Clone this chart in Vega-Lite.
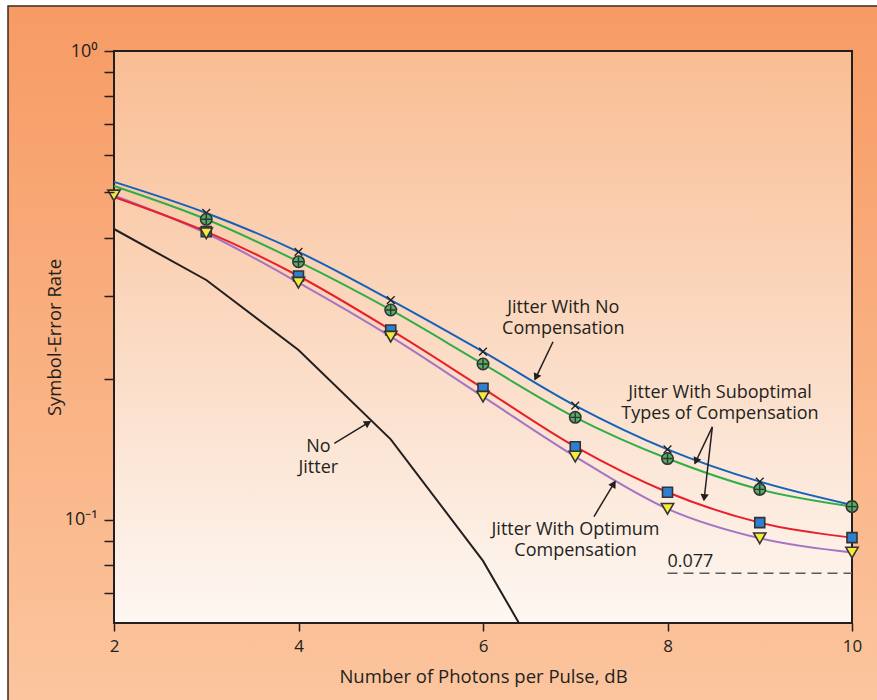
{
  "$schema": "https://vega.github.io/schema/vega-lite/v6.json",
  "width": 738,
  "height": 572,
  "autosize": {"type": "none"},
  "padding": {"left": 114, "top": 51, "right": 25, "bottom": 77},
  "background": "white",
  "config": {
    "view": {"stroke": null},
    "font": "Open Sans"
  },
  "datasets": {
    "curves": [
      {"s": "none", "x": 2, "y": 0.4173}, {"s": "none", "x": 3, "y": 0.3249}, {"s": "none", "x": 4, "y": 0.2304},
      {"s": "none", "x": 5, "y": 0.1486}, {"s": "none", "x": 6, "y": 0.0818}, {"s": "none", "x": 6.4, "y": 0.0598},
      {"s": "blue", "x": 2, "y": 0.526}, {"s": "blue", "x": 3, "y": 0.4515}, {"s": "blue", "x": 4, "y": 0.373},
      {"s": "blue", "x": 5, "y": 0.2944}, {"s": "blue", "x": 6, "y": 0.2285}, {"s": "blue", "x": 7, "y": 0.1753},
      {"s": "blue", "x": 8, "y": 0.1414}, {"s": "blue", "x": 9, "y": 0.1207}, {"s": "blue", "x": 10, "y": 0.1076},
      {"s": "green", "x": 2, "y": 0.5155}, {"s": "green", "x": 3, "y": 0.4377}, {"s": "green", "x": 4, "y": 0.3554},
      {"s": "green", "x": 5, "y": 0.2804}, {"s": "green", "x": 6, "y": 0.2151}, {"s": "green", "x": 7, "y": 0.1655},
      {"s": "green", "x": 8, "y": 0.1352}, {"s": "green", "x": 9, "y": 0.1162}, {"s": "green", "x": 10, "y": 0.1068},
      {"s": "red", "x": 2, "y": 0.4884}, {"s": "red", "x": 3, "y": 0.4119}, {"s": "red", "x": 4, "y": 0.3313},
      {"s": "red", "x": 5, "y": 0.2542}, {"s": "red", "x": 6, "y": 0.1909}, {"s": "red", "x": 7, "y": 0.1433},
      {"s": "red", "x": 8, "y": 0.1146}, {"s": "red", "x": 9, "y": 0.0987}, {"s": "red", "x": 10, "y": 0.0917},
      {"s": "purple", "x": 2, "y": 0.492}, {"s": "purple", "x": 3, "y": 0.4087}, {"s": "purple", "x": 4, "y": 0.3206},
      {"s": "purple", "x": 5, "y": 0.2459}, {"s": "purple", "x": 6, "y": 0.1832}, {"s": "purple", "x": 7, "y": 0.1365},
      {"s": "purple", "x": 8, "y": 0.1056}, {"s": "purple", "x": 9, "y": 0.0914}, {"s": "purple", "x": 10, "y": 0.0852}
    ],
    "labels": [
      {"text": "Jitter With No\nCompensation", "x": 6.87, "y": 0.2831},
      {"text": "Jitter With Suboptimal\nTypes of Compensation", "x": 8.569, "y": 0.1868},
      {"text": "Jitter With Optimum\nCompensation", "x": 7.003, "y": 0.0952},
      {"text": "No\nJitter", "x": 4.215, "y": 0.1433}
    ],
    "reflabel": [
      {"text": "0.077", "x": 8.0, "y": 0.0815}
    ],
    "arrows": [
      {"x": 6.759, "y": 0.2399, "x2": 6.564, "y2": 0.1995, "hx": 6.58, "hy": 0.2026, "angle": 205.6},
      {"x": 8.486, "y": 0.158, "x2": 8.298, "y2": 0.1321, "hx": 8.314, "hy": 0.1341, "angle": 205.3},
      {"x": 8.486, "y": 0.158, "x2": 8.396, "y2": 0.1103, "hx": 8.4, "hy": 0.1122, "angle": 186.5},
      {"x": 7.203, "y": 0.1017, "x2": 7.431, "y2": 0.1207, "hx": 7.411, "hy": 0.1189, "angle": 31},
      {"x": 4.388, "y": 0.1457, "x2": 4.775, "y2": 0.1621, "hx": 4.743, "hy": 0.1606, "angle": 58.8}
    ],
    "ref": [{"x": 8, "x2": 10, "y": 0.077}]
  },
  "layer": [
    {
      "data": {"values": [{}]},
      "mark": {"type": "rect", "clip": false, "stroke": "#3a2a20", "strokeWidth": 1.5,
        "fill": {"gradient": "linear", "x1": 0, "y1": 0, "x2": 0, "y2": 1,
          "stops": [{"offset": 0, "color": "#f79b64"}, {"offset": 1, "color": "#fcc9a3"}]}},
      "encoding": {
        "x": {"datum": 0.851, "type": "quantitative", "scale": {"domain": [2, 10], "nice": false, "zero": false}},
        "x2": {"datum": 11.5},
        "y": {"datum": 1.247, "type": "quantitative", "scale": {"type": "log", "domain": [0.0603, 1], "nice": false}},
        "y2": {"datum": 0.03}
      }
    },
    {
      "data": {"values": [{}]},
      "mark": {"type": "rect", "clip": false, "stroke": "#231f20", "strokeWidth": 2,
        "fill": {"gradient": "linear", "x1": 0, "y1": 0, "x2": 0, "y2": 1,
          "stops": [{"offset": 0, "color": "#f9bd93"}, {"offset": 1, "color": "#fdf7f2"}]}},
      "encoding": {
        "x": {"datum": 2, "type": "quantitative"},
        "x2": {"datum": 10},
        "y": {"datum": 1, "type": "quantitative"},
        "y2": {"datum": 0.0603}
      }
    },
    {
      "data": {"name": "curves"},
      "transform": [{"filter": "datum.s == 'none'"}],
      "mark": {"type": "line", "clip": true, "color": "#231f20", "strokeWidth": 2},
      "encoding": {
        "x": {"field": "x", "type": "quantitative",
          "axis": {"zindex": 2, "domain": false, "grid": false, "values": [2, 4, 6, 8, 10], "format": "d", "labelFlush": false,
            "tickSize": 8, "tickWidth": 1.5, "tickColor": "#231f20",
            "labelPadding": 7, "labelFont": "Open Sans", "labelFontSize": 17, "labelColor": "#231f20",
            "title": "Number of Photons per Pulse, dB", "titleFont": "Open Sans", "titleFontSize": 18.5, "titleFontWeight": "normal", "titleColor": "#231f20", "titlePadding": 13}},
        "y": {"field": "y", "type": "quantitative",
          "axis": {"zindex": 2, "domain": false, "grid": false, "values": [0.07, 0.08, 0.09, 0.1, 0.2, 0.3, 0.4, 0.5, 0.6, 0.7, 0.8, 0.9, 1],
            "tickSize": 10, "tickWidth": 1.5, "tickColor": "#231f20", "labelPadding": 7, "labelFlush": false,
            "labelFont": "Open Sans", "labelFontSize": 18, "labelColor": "#231f20",
            "labelExpr": "abs(datum.value - 1) < 1e-6 ? '10⁰' : abs(datum.value - 0.1) < 1e-6 ? '10⁻¹' : ''",
            "title": "Symbol-Error Rate", "titleFont": "Open Sans", "titleFontSize": 18.5, "titleFontWeight": "normal", "titleColor": "#231f20", "titlePadding": 0}}
      }
    },
    {
      "data": {"name": "curves"},
      "transform": [{"filter": "datum.s == 'purple'"}],
      "mark": {"type": "line", "color": "#a574c4", "strokeWidth": 2, "interpolate": "monotone"},
      "encoding": {"x": {"field": "x", "type": "quantitative"}, "y": {"field": "y", "type": "quantitative"}}
    },
    {
      "data": {"name": "curves"},
      "transform": [{"filter": "datum.s == 'red'"}],
      "mark": {"type": "line", "color": "#e8202a", "strokeWidth": 2, "interpolate": "monotone"},
      "encoding": {"x": {"field": "x", "type": "quantitative"}, "y": {"field": "y", "type": "quantitative"}}
    },
    {
      "data": {"name": "curves"},
      "transform": [{"filter": "datum.s == 'green'"}],
      "mark": {"type": "line", "color": "#2fae4a", "strokeWidth": 2, "interpolate": "monotone"},
      "encoding": {"x": {"field": "x", "type": "quantitative"}, "y": {"field": "y", "type": "quantitative"}}
    },
    {
      "data": {"name": "curves"},
      "transform": [{"filter": "datum.s == 'blue'"}],
      "mark": {"type": "line", "color": "#1562b8", "strokeWidth": 2, "interpolate": "monotone"},
      "encoding": {"x": {"field": "x", "type": "quantitative"}, "y": {"field": "y", "type": "quantitative"}}
    },
    {
      "data": {"name": "curves"},
      "transform": [{"filter": "datum.s == 'blue' && datum.x >= 3"}],
      "mark": {"type": "point", "shape": "M-1,-1L1,1M-1,1L1,-1", "size": 60, "stroke": "#231f20", "strokeWidth": 1.3, "filled": false, "opacity": 1},
      "encoding": {"x": {"field": "x", "type": "quantitative"}, "y": {"field": "y", "type": "quantitative"}}
    },
    {
      "data": {"name": "curves"},
      "transform": [{"filter": "datum.s == 'green' && datum.x >= 3"}],
      "mark": {"type": "point", "shape": "circle", "size": 130, "fill": "#52b064", "stroke": "#333333", "strokeWidth": 1.6, "filled": true, "opacity": 1},
      "encoding": {"x": {"field": "x", "type": "quantitative"}, "y": {"field": "y", "type": "quantitative"}}
    },
    {
      "data": {"name": "curves"},
      "transform": [{"filter": "datum.s == 'green' && datum.x >= 3"}],
      "mark": {"type": "point", "shape": "M-1,0L1,0M0,-1L0,1", "size": 90, "stroke": "#333333", "strokeWidth": 1.4, "filled": false, "opacity": 1},
      "encoding": {"x": {"field": "x", "type": "quantitative"}, "y": {"field": "y", "type": "quantitative"}}
    },
    {
      "data": {"name": "curves"},
      "transform": [{"filter": "datum.s == 'red' && datum.x >= 3"}],
      "mark": {"type": "point", "shape": "square", "size": 100, "fill": "#2e7fcf", "stroke": "#333333", "strokeWidth": 1.6, "filled": true, "opacity": 1},
      "encoding": {"x": {"field": "x", "type": "quantitative"}, "y": {"field": "y", "type": "quantitative"}}
    },
    {
      "data": {"name": "curves"},
      "transform": [{"filter": "datum.s == 'purple'"}],
      "mark": {"type": "point", "shape": "triangle-down", "size": 150, "fill": "#f6ea3a", "stroke": "#333333", "strokeWidth": 1.6, "filled": true, "opacity": 1},
      "encoding": {"x": {"field": "x", "type": "quantitative"}, "y": {"field": "y", "type": "quantitative"}}
    },
    {
      "data": {"name": "ref"},
      "mark": {"type": "rule", "color": "#5a5a5a", "strokeWidth": 1.5, "strokeDash": [10, 6]},
      "encoding": {"x": {"field": "x", "type": "quantitative"}, "x2": {"field": "x2"}, "y": {"field": "y", "type": "quantitative"}}
    },
    {
      "data": {"name": "arrows"},
      "mark": {"type": "rule", "color": "#231f20", "strokeWidth": 1.5},
      "encoding": {"x": {"field": "x", "type": "quantitative"}, "x2": {"field": "x2"}, "y": {"field": "y", "type": "quantitative"}, "y2": {"field": "y2"}}
    },
    {
      "data": {"name": "arrows"},
      "mark": {"type": "point", "shape": "triangle", "size": 70, "fill": "#231f20", "filled": true, "strokeWidth": 0, "opacity": 1},
      "encoding": {"x": {"field": "hx", "type": "quantitative"}, "y": {"field": "hy", "type": "quantitative"}, "angle": {"field": "angle", "type": "quantitative", "scale": null}}
    },
    {
      "data": {"name": "labels"},
      "mark": {"type": "text", "font": "Open Sans", "fontSize": 18, "color": "#231f20", "align": "center", "baseline": "middle", "lineBreak": "\n", "lineHeight": 21},
      "encoding": {"x": {"field": "x", "type": "quantitative"}, "y": {"field": "y", "type": "quantitative"}, "text": {"field": "text"}}
    },
    {
      "data": {"name": "reflabel"},
      "mark": {"type": "text", "font": "Open Sans", "fontSize": 18, "color": "#231f20", "align": "left", "baseline": "middle"},
      "encoding": {"x": {"field": "x", "type": "quantitative"}, "y": {"field": "y", "type": "quantitative"}, "text": {"field": "text"}}
    }
  ]
}
